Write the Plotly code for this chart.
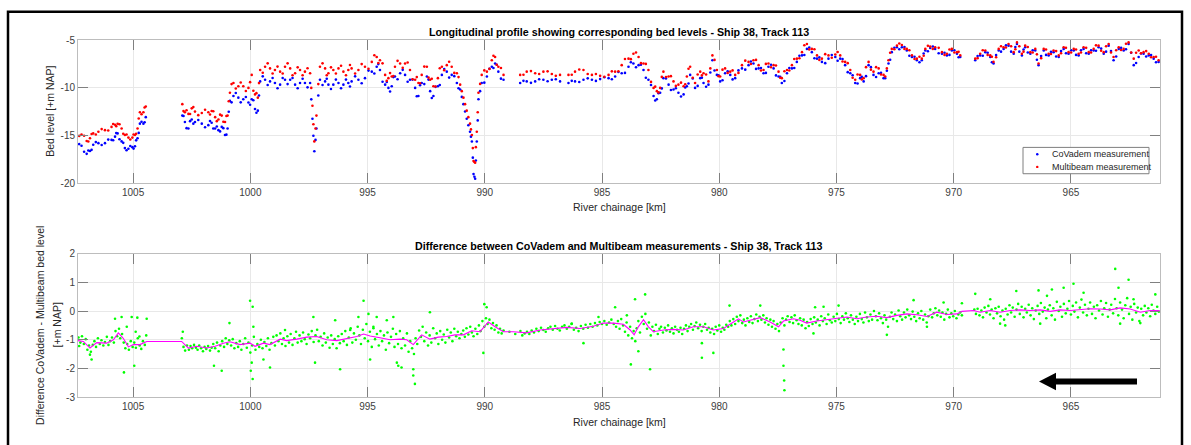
import plotly.graph_objects as go

# ---------------------------------------------------------------------------
# Data: bed levels along the river (chainage in km, levels in m NAP)
# ---------------------------------------------------------------------------
chainage_km = [
    1007.41, 1007.20, 1006.98, 1006.84, 1006.70, 1006.48, 1006.20, 1005.92, 1005.77, 1005.66,
    1005.49, 1005.35, 1005.20, 1005.03, 1004.92, 1004.81, 1004.71, 1004.56, 1004.46, 1002.90,
    1002.79, 1002.64, 1002.50, 1002.36, 1002.07, 1001.79, 1001.65, 1001.50, 1001.36, 1001.22,
    1001.08, 1000.97, 1000.87, 1000.72, 1000.51, 1000.30, 1000.08, 999.94, 999.80, 999.68,
    999.58, 999.37, 999.16, 998.95, 998.73, 998.52, 998.30, 998.09, 997.88, 997.67,
    997.45, 997.35, 997.27, 997.18, 997.03, 996.81, 996.67, 996.46, 996.24, 996.03,
    995.82, 995.68, 995.39, 995.11, 994.82, 994.61, 994.47, 994.25, 994.11, 993.97,
    993.83, 993.61, 993.40, 993.19, 992.97, 992.83, 992.69, 992.47, 992.33, 992.19,
    992.00, 991.83, 991.62, 991.41, 991.19, 991.05, 990.91, 990.77, 990.63, 990.55,
    990.48, 990.41, 990.34, 990.27, 990.13, 989.91, 989.70, 989.56, 989.42, 989.20,
    988.49, 988.21, 987.85, 987.50, 987.14, 986.79, 986.43, 986.15, 985.79, 985.43,
    985.08, 984.72, 984.44, 984.16, 983.87, 983.66, 983.44, 983.23, 983.02, 982.80,
    982.66, 982.52, 982.38, 982.16, 981.95, 981.74, 981.52, 981.38, 981.24, 981.03,
    980.81, 980.67, 980.46, 980.29, 980.10, 979.96, 979.75, 979.53, 979.32, 979.03,
    978.75, 978.54, 978.32, 978.11, 977.90, 977.68, 977.47, 977.33, 977.11, 976.90,
    976.69, 976.47, 976.26, 976.05, 975.83, 975.62, 975.34, 975.05, 974.84, 974.63,
    974.41, 974.20, 973.99, 973.84, 973.63, 973.42, 973.20, 972.99, 972.92, 972.78,
    972.64, 972.42, 972.21, 972.00, 971.78, 971.57, 971.36, 971.21, 971.00, 970.79,
    970.50, 970.29, 970.08, 969.86, 969.72, 969.08, 968.87, 968.65, 968.44, 968.30,
    968.08, 967.87, 967.66, 967.44, 967.30, 967.09, 966.95, 966.73, 966.52, 966.38,
    966.16, 965.95, 965.74, 965.52, 965.31, 965.10, 964.88, 964.67, 964.46, 964.24,
    964.03, 963.82, 963.60, 963.39, 963.18, 962.96, 962.75, 962.54, 962.32, 962.11,
    961.90, 961.68, 961.47, 961.26,
]

covadem_bed = [
    -16.10, -16.06, -16.90, -16.60, -15.95, -15.78, -15.78, -15.44, -15.10, -14.76,
    -15.60, -16.30, -16.36, -16.20, -16.10, -15.27, -13.74, -13.74, -13.06, -12.90,
    -13.57, -14.25, -13.30, -13.57, -13.74, -13.90, -13.64, -14.25, -14.42, -14.08,
    -14.93, -14.25, -11.36, -10.85, -11.02, -11.19, -11.53, -11.19, -12.21, -12.38,
    -9.32, -9.15, -9.32, -9.49, -9.66, -9.15, -9.15, -9.66, -9.49, -9.49,
    -9.49, -13.23, -16.63, -14.25, -9.15, -9.32, -9.66, -9.66, -9.49, -9.66,
    -9.49, -9.32, -9.15, -8.98, -8.30, -7.79, -8.13, -9.66, -10.00, -9.83,
    -8.81, -8.47, -8.64, -9.15, -10.00, -10.85, -9.49, -8.81, -10.34, -10.85,
    -9.83, -8.64, -8.30, -8.64, -9.49, -10.17, -11.70, -13.23, -14.59, -15.61,
    -19.02, -19.50, -15.61, -11.19, -9.49, -8.81, -7.79, -7.45, -8.30, -9.15,
    -9.49, -9.32, -9.32, -9.15, -9.15, -9.32, -9.49, -9.32, -9.15, -9.15,
    -9.08, -8.98, -8.81, -8.47, -7.79, -7.45, -7.62, -8.13, -9.15, -10.85,
    -11.19, -10.51, -8.98, -9.66, -10.17, -10.51, -10.68, -9.83, -8.64, -10.00,
    -8.98, -9.49, -9.66, -7.11, -8.64, -9.32, -8.47, -8.64, -8.98, -7.96,
    -7.62, -7.45, -7.96, -8.47, -7.79, -7.96, -8.81, -9.49, -8.47, -7.96,
    -7.28, -6.60, -5.92, -6.26, -6.94, -7.28, -6.94, -6.77, -6.94, -7.62,
    -8.47, -9.49, -8.98, -9.32, -7.62, -8.64, -8.47, -8.98, -8.98, -7.45,
    -6.26, -5.75, -5.75, -6.09, -6.77, -7.11, -7.11, -6.09, -5.82, -5.92,
    -6.43, -6.60, -6.09, -6.43, -6.77, -7.11, -6.60, -6.26, -6.77, -7.45,
    -6.09, -5.92, -5.58, -6.43, -5.41, -6.60, -5.75, -6.43, -6.09, -7.62,
    -6.09, -6.60, -6.26, -6.77, -5.92, -6.43, -6.09, -6.60, -5.92, -6.43,
    -6.09, -5.75, -6.43, -5.58, -7.11, -5.92, -6.09, -5.41, -7.62, -6.77,
    -6.43, -6.60, -6.94, -7.28,
]

multibeam_bed = [
    -14.76, -14.87, -15.55, -15.27, -14.76, -14.59, -14.42, -14.08, -13.85, -13.75,
    -14.25, -14.93, -15.20, -15.20, -14.93, -14.25, -12.55, -12.55, -11.94, -11.70,
    -12.55, -12.72, -12.14, -12.48, -12.62, -12.55, -12.42, -13.06, -13.30, -12.90,
    -13.57, -12.90, -10.51, -9.49, -9.83, -9.83, -10.00, -8.64, -10.68, -11.02,
    -8.13, -7.79, -7.96, -8.13, -8.30, -7.79, -7.96, -8.47, -8.13, -8.30,
    -8.47, -11.87, -15.60, -12.90, -7.79, -7.96, -8.47, -8.13, -7.96, -8.30,
    -8.13, -7.96, -8.13, -7.79, -7.28, -6.77, -7.11, -8.64, -8.98, -8.81,
    -7.79, -7.45, -7.45, -8.13, -9.15, -9.49, -8.64, -7.79, -9.15, -9.83,
    -8.98, -7.79, -7.62, -7.79, -8.47, -9.66, -11.02, -12.38, -13.74, -14.93,
    -17.66, -17.83, -14.59, -10.51, -8.64, -8.30, -7.11, -6.77, -7.79, -8.64,
    -8.64, -8.30, -8.47, -8.30, -8.54, -8.64, -8.64, -8.30, -8.13, -8.64,
    -8.74, -8.64, -8.30, -7.62, -6.94, -6.43, -6.77, -7.45, -8.13, -10.00,
    -10.34, -10.00, -8.30, -8.81, -9.32, -9.66, -9.83, -8.81, -7.79, -9.49,
    -8.30, -8.47, -9.32, -6.60, -8.13, -8.81, -7.96, -8.30, -8.64, -7.62,
    -7.28, -7.11, -7.62, -8.13, -7.45, -7.62, -8.30, -8.98, -8.13, -7.62,
    -6.94, -6.26, -5.41, -5.92, -6.60, -6.94, -6.60, -6.50, -6.60, -7.28,
    -8.13, -9.15, -8.64, -8.98, -7.28, -8.30, -7.96, -8.64, -8.81, -7.11,
    -5.92, -5.58, -5.51, -5.92, -6.60, -6.94, -6.94, -5.92, -5.68, -5.75,
    -6.26, -6.43, -5.92, -6.26, -6.60, -6.94, -6.43, -6.09, -6.60, -7.28,
    -5.92, -5.75, -5.41, -6.26, -5.24, -6.43, -5.58, -6.26, -5.92, -7.45,
    -5.92, -6.43, -6.09, -6.60, -5.75, -6.26, -5.92, -6.43, -5.75, -6.26,
    -5.92, -5.58, -6.26, -5.41, -6.77, -5.75, -5.92, -5.24, -6.94, -6.09,
    -6.26, -6.43, -6.77, -7.11,
]

# Additional soundings between the ones above (upper / lower parts of the scatter bands)
chainage_km_b = [
    1007.30, 1007.09, 1006.91, 1006.77, 1006.59, 1006.34, 1006.06, 1005.85, 1005.72, 1005.58,
    1005.42, 1005.28, 1005.12, 1004.98, 1004.87, 1004.76, 1004.64, 1004.51,
    1002.85, 1002.72, 1002.57, 1002.43, 1002.22, 1001.93, 1001.72, 1001.58, 1001.43, 1001.29,
    1001.15, 1001.02, 1000.92, 1000.80, 1000.62, 1000.41, 1000.19, 1000.01, 999.87, 999.74,
    999.63,
    999.47, 999.26, 999.05, 998.84, 998.62, 998.41, 998.20, 997.98, 997.77, 997.56,
    997.40, 997.31, 997.22, 997.10, 996.92, 996.74, 996.56, 996.35, 996.13, 995.92,
    995.75, 995.53, 995.25, 994.96, 994.71, 994.54, 994.36, 994.18, 994.04, 993.90,
    993.72, 993.50, 993.29, 993.08, 992.90, 992.76, 992.58, 992.40, 992.26, 992.10,
    991.92, 991.73, 991.52, 991.30, 991.12, 990.98, 990.84, 990.70, 990.59, 990.51,
    990.44, 990.38, 990.30, 990.20, 990.02, 989.80, 989.63, 989.49, 989.31,
    988.35, 988.03, 987.68, 987.32, 986.97, 986.29, 985.97, 985.61, 985.26, 984.90,
    984.58, 984.30, 984.02, 983.77, 983.55, 983.34, 983.13, 982.91, 982.73, 982.59,
    982.45, 982.27, 982.06, 981.85, 981.63, 981.45, 981.31, 981.13, 980.92, 980.74,
    980.56, 980.38, 980.20, 980.03, 979.86, 979.64, 979.43, 979.18, 978.89, 978.65,
    978.43, 978.22, 978.01, 977.79, 977.58, 977.40, 977.22, 977.01, 976.80, 976.58,
    976.37, 976.16, 975.94, 975.73, 975.48, 975.20, 974.95, 974.74, 974.52, 974.31,
    974.10, 973.92, 973.74, 973.53, 973.31, 973.10, 972.85, 972.71, 972.53, 972.32,
    972.10, 971.89, 971.67, 971.46, 971.28, 971.10, 970.89, 970.64, 970.39, 970.18,
    969.97, 969.79,
    968.98, 968.76, 968.55, 968.37, 968.19, 967.98, 967.77, 967.55, 967.37, 967.20,
    967.02, 966.84, 966.63, 966.45, 966.27, 966.06, 965.85, 965.63, 965.42, 965.21,
    964.99, 964.78, 964.57, 964.35, 964.14, 963.93, 963.71, 963.50, 963.29, 963.07,
    962.86, 962.65, 962.43, 962.22, 962.01, 961.79, 961.58, 961.37,
]

covadem_bed_b = [
    -15.88, -16.68, -16.55, -16.48, -15.67, -15.98, -15.41, -15.47, -14.73, -15.38,
    -15.75, -16.53, -16.08, -16.35, -15.49, -14.71, -13.54, -13.60,
    -12.94, -14.21, -13.48, -13.74, -13.36, -14.12, -13.47, -14.25, -14.04, -14.55,
    -14.21, -14.89, -12.50, -11.51, -10.54, -11.51, -10.96, -11.76, -11.30, -12.60,
    -10.80,
    -8.79, -9.69, -8.96, -10.03, -8.96, -9.60, -8.96, -10.03, -9.04, -9.94,
    -11.20, -15.00, -15.44, -10.80, -9.69, -9.04, -10.11, -9.13, -10.03, -9.13,
    -9.86, -8.79, -9.52, -8.19, -8.50, -7.51, -9.35, -9.38, -10.37, -8.87,
    -9.09, -8.11, -9.35, -9.13, -10.88, -9.72, -9.60, -9.13, -11.05, -9.89,
    -9.69, -8.02, -8.92, -8.77, -10.03, -10.94, -12.47, -13.91, -15.10, -17.30,
    -19.30, -17.60, -13.40, -10.34, -9.45, -8.00, -7.92, -7.58, -9.03,
    -9.26, -9.47, -9.09, -9.30, -9.09, -9.26, -9.39, -9.00, -9.27, -8.88,
    -9.10, -8.34, -8.43, -7.32, -7.84, -7.58, -8.94, -9.70, -11.32, -10.55,
    -10.05, -9.02, -10.22, -10.04, -10.90, -9.96, -9.54, -9.02, -9.79, -8.94,
    -9.88, -8.39, -8.18, -8.68, -9.20, -8.26, -9.11, -8.17, -8.09, -7.24,
    -8.01, -7.92, -8.43, -7.58, -8.69, -8.85, -9.28, -7.92, -7.92, -6.64,
    -6.56, -5.79, -6.90, -6.81, -7.41, -6.56, -7.16, -6.98, -8.35, -8.68,
    -9.54, -8.85, -8.77, -7.83, -8.86, -8.43, -8.20, -7.06, -5.81, -5.95,
    -5.72, -6.63, -6.74, -7.31, -6.40, -6.16, -5.67, -6.38, -6.32, -6.55,
    -6.06, -6.80,
    -6.66, -6.63, -6.32, -7.31, -6.57, -6.21, -5.55, -6.21, -5.72, -6.21,
    -5.98, -6.29, -6.06, -7.06, -6.66, -6.55, -6.23, -6.72, -6.15, -6.38,
    -6.06, -6.55, -6.06, -6.38, -6.06, -6.12, -5.89, -6.21, -6.15, -6.72,
    -5.81, -5.95, -6.32, -7.40, -6.40, -6.72, -6.57, -7.31,
]

multibeam_bed_b = [
    -15.02, -15.01, -15.61, -14.82, -14.88, -14.31, -14.45, -13.77, -14.00, -13.80,
    -14.79, -14.87, -15.40, -14.87, -14.79, -13.20, -12.75, -12.05,
    -12.43, -12.34, -12.73, -12.01, -12.85, -12.29, -12.79, -12.44, -13.48, -12.80,
    -13.54, -12.94, -11.40, -9.60, -10.06, -9.43, -10.32, -9.40, -10.30, -10.55,
    -9.50,
    -8.41, -7.43, -8.50, -7.77, -8.50, -7.43, -8.67, -7.85, -8.67, -7.94,
    -10.00, -13.80, -14.25, -9.60, -7.43, -8.67, -7.85, -8.50, -7.68, -8.67,
    -7.60, -8.50, -7.51, -7.99, -6.58, -7.39, -7.43, -9.26, -8.45, -8.75,
    -7.17, -7.90, -7.34, -9.09, -8.87, -9.52, -7.77, -8.92, -9.04, -9.86,
    -7.94, -8.16, -7.26, -8.43, -8.87, -10.34, -11.70, -13.06, -14.34, -16.30,
    -17.75, -16.20, -12.55, -9.58, -8.17, -8.01, -6.64, -7.58, -7.92,
    -8.62, -8.24, -8.54, -8.27, -8.74, -8.62, -8.07, -8.54, -8.54, -8.84,
    -8.27, -8.26, -6.98, -6.99, -6.30, -7.41, -7.49, -9.37, -9.87, -10.47,
    -8.85, -8.86, -8.77, -9.79, -9.45, -9.62, -8.00, -8.94, -8.60, -8.69,
    -8.60, -7.96, -7.07, -8.77, -8.09, -8.43, -8.17, -8.43, -7.15, -7.50,
    -7.07, -8.18, -7.49, -7.84, -7.66, -8.94, -8.26, -8.18, -6.98, -6.90,
    -5.54, -5.97, -5.96, -7.07, -6.47, -6.85, -6.25, -7.24, -7.41, -8.94,
    -8.60, -9.11, -7.83, -8.09, -7.83, -8.60, -7.96, -6.32, -5.95, -5.35,
    -5.92, -6.06, -6.97, -6.74, -6.63, -5.60, -5.92, -5.81, -6.55, -5.98,
    -6.29, -6.23,
    -6.89, -6.06, -6.55, -6.74, -6.80, -5.64, -5.78, -5.64, -5.95, -5.64,
    -6.21, -5.72, -6.29, -6.49, -6.89, -5.98, -6.46, -6.15, -6.38, -5.81,
    -6.29, -5.98, -6.29, -5.81, -6.29, -5.55, -6.12, -5.64, -6.29, -6.06,
    -6.04, -5.38, -6.29, -6.32, -6.38, -6.15, -6.80, -6.74,
]

# Difference CoVadem - Multibeam per measurement point (km, m)
difference_points = [
    (1007.33, -0.92), (1007.30, -1.22), (1007.25, -1.10), (1007.18, -0.88), (1007.10, -1.15),
    (1007.02, -0.98), (1006.95, -1.35), (1006.88, -1.20), (1006.80, -1.42), (1006.72, -1.18),
    (1006.65, -1.05), (1006.58, -1.25), (1006.50, -0.95), (1006.42, -1.15), (1006.35, -1.02),
    (1006.27, -1.20), (1006.20, -1.08), (1006.12, -0.90), (1006.05, -1.18), (1005.98, -1.05),
    (1005.90, -0.92), (1005.82, -1.10), (1005.75, -0.70), (1005.68, -0.88), (1005.60, -0.62),
    (1005.55, -0.95), (1005.47, -0.80), (1005.40, -1.10), (1005.33, -1.30), (1005.25, -1.15),
    (1005.18, -1.35), (1005.10, -1.05), (1005.02, -1.25), (1004.95, -1.10), (1004.88, -1.28),
    (1004.80, -0.95), (1004.72, -1.20), (1004.65, -1.32), (1004.58, -1.05), (1004.50, -1.18),
    (1004.44, -0.85),
    (1002.92, -0.95), (1002.85, -1.25), (1002.78, -1.38), (1002.70, -1.20), (1002.62, -1.35),
    (1002.55, -1.22), (1002.48, -1.30), (1002.40, -1.18), (1002.32, -1.28), (1002.25, -1.35),
    (1002.18, -1.20), (1002.10, -1.30), (1002.02, -1.40), (1001.95, -1.25), (1001.88, -1.32),
    (1001.80, -1.22), (1001.72, -1.38), (1001.65, -1.28), (1001.58, -1.15), (1001.50, -1.30),
    (1001.42, -1.10), (1001.35, -1.40), (1001.28, -1.20), (1001.20, -1.05), (1001.12, -1.25),
    (1001.05, -0.95), (1000.98, -1.15), (1000.90, -1.02), (1000.82, -1.20), (1000.75, -0.98),
    (1000.68, -1.30), (1000.60, -1.12), (1000.52, -1.25), (1000.45, -1.05), (1000.38, -1.35),
    (1000.30, -1.15), (1000.22, -0.95), (1000.15, -1.28), (1000.08, -1.10), (1000.00, -1.45),
    (999.92, -1.20), (999.85, -0.90), (999.78, -1.35), (999.70, -1.15), (999.62, -1.25),
    (999.55, -1.00), (999.48, -1.30), (999.40, -1.08), (999.32, -1.22), (999.25, -0.95),
    (999.18, -1.35), (999.10, -1.12), (999.02, -0.90), (998.95, -1.20), (998.88, -0.85),
    (998.80, -1.05), (998.72, -0.78), (998.65, -1.15), (998.58, -0.95), (998.50, -1.22),
    (998.42, -0.88), (998.35, -1.10), (998.28, -0.80), (998.20, -1.18), (998.12, -0.95),
    (998.05, -0.72), (997.98, -1.10), (997.90, -0.85), (997.82, -1.05), (997.75, -0.75),
    (997.68, -0.98), (997.60, -1.15), (997.52, -0.82), (997.45, -0.95), (997.38, -0.70),
    (997.30, -1.08), (997.22, -0.85), (997.15, -0.65), (997.08, -1.05), (997.00, -0.90),
    (996.92, -1.20), (996.85, -0.78), (996.78, -1.10), (996.70, -0.92), (996.62, -1.28),
    (996.55, -0.85), (996.48, -1.15), (996.40, -0.98), (996.32, -1.30), (996.25, -0.88),
    (996.18, -1.12), (996.10, -0.80), (996.02, -1.05), (995.95, -0.70), (995.88, -1.18),
    (995.80, -0.92), (995.72, -0.60), (995.65, -1.10), (995.58, -0.78), (995.50, -1.00),
    (995.42, -0.55), (995.35, -0.85), (995.28, -1.15), (995.20, -0.65), (995.12, -0.95),
    (995.05, -0.45), (994.98, -1.05), (994.90, -0.72), (994.82, -1.25), (994.75, -0.60),
    (994.68, -0.98), (994.60, -0.80), (994.52, -1.20), (994.45, -0.70), (994.38, -1.05),
    (994.30, -0.85), (994.22, -1.35), (994.15, -0.75), (994.08, -1.12), (994.00, -0.90),
    (993.92, -0.62), (993.85, -1.25), (993.78, -0.80), (993.70, -1.15), (993.62, -0.70),
    (993.55, -1.30), (993.48, -0.95), (993.40, -1.20), (993.32, -0.78), (993.25, -1.42),
    (993.18, -1.05), (993.10, -1.30), (993.02, -1.50), (992.95, -0.95), (992.88, -1.15),
    (992.80, -0.68), (992.72, -0.90), (992.65, -0.55), (992.58, -1.05), (992.50, -0.75),
    (992.42, -1.20), (992.35, -0.85), (992.28, -1.10), (992.20, -0.60), (992.12, -0.95),
    (992.05, -0.78), (991.98, -1.15), (991.90, -0.70), (991.82, -1.00), (991.75, -0.82),
    (991.68, -1.10), (991.60, -0.65), (991.52, -0.92), (991.45, -0.75), (991.38, -1.05),
    (991.30, -0.62), (991.22, -0.88), (991.15, -0.72), (991.08, -0.95), (991.00, -0.80),
    (990.92, -0.68), (990.85, -0.90), (990.78, -0.60), (990.70, -0.82), (990.62, -0.55),
    (990.55, -0.75), (990.48, -0.88), (990.40, -0.62), (990.32, -0.80), (990.25, -0.50),
    (990.18, -0.70), (990.10, -0.35), (990.02, -0.55), (989.95, -0.25), (989.88, -0.45),
    (989.80, -0.30), (989.72, -0.60), (989.65, -0.42), (989.58, -0.65), (989.50, -0.50),
    (989.42, -0.75), (989.35, -0.62), (989.28, -0.78), (989.20, -0.68),
    (988.95, -0.72), (988.70, -0.80),
    (988.48, -0.70), (988.40, -0.85), (988.30, -0.78), (988.20, -0.72), (988.10, -0.80),
    (988.00, -0.68), (987.90, -0.75), (987.80, -0.62), (987.70, -0.70), (987.60, -0.58),
    (987.50, -0.66), (987.40, -0.72), (987.30, -0.60), (987.20, -0.55), (987.10, -0.65),
    (987.00, -0.52), (986.90, -0.62), (986.80, -0.68), (986.70, -0.55), (986.60, -0.50),
    (986.50, -0.62), (986.40, -0.55), (986.30, -0.45), (986.20, -0.65), (986.10, -0.58),
    (986.00, -0.70), (985.90, -0.52), (985.80, -0.62), (985.70, -0.48), (985.60, -0.58),
    (985.50, -0.45), (985.40, -0.55), (985.30, -0.42), (985.20, -0.50), (985.10, -0.38),
    (985.00, -0.45), (984.90, -0.35), (984.80, -0.48), (984.70, -0.40), (984.60, -0.30),
    (984.50, -0.45), (984.40, -0.55), (984.32, -0.35), (984.25, -0.62), (984.18, -0.28),
    (984.10, -0.50), (984.02, -0.72), (983.95, -0.40), (983.88, -0.85), (983.80, -0.55),
    (983.72, -0.95), (983.65, -0.70), (983.58, -1.05), (983.52, -0.60), (983.45, -0.35),
    (983.38, -0.75), (983.30, -0.20), (983.22, -0.45), (983.15, -0.10), (983.08, -0.62),
    (983.00, -0.40), (982.92, -0.85), (982.85, -0.55), (982.78, -0.70), (982.70, -0.48),
    (982.62, -0.80), (982.55, -0.62), (982.48, -0.55), (982.40, -0.75), (982.32, -0.58),
    (982.25, -0.68), (982.18, -0.50), (982.10, -0.72), (982.02, -0.60), (981.95, -0.78),
    (981.88, -0.55), (981.80, -0.65), (981.72, -0.72), (981.65, -0.58), (981.58, -0.80),
    (981.50, -0.62), (981.42, -0.50), (981.35, -0.70), (981.28, -0.55), (981.20, -0.45),
    (981.12, -0.65), (981.05, -0.52), (980.98, -0.40), (980.90, -0.60), (980.82, -0.48),
    (980.75, -0.70), (980.68, -0.55), (980.60, -0.45), (980.52, -0.65), (980.45, -0.58),
    (980.38, -0.75), (980.30, -0.62), (980.22, -0.80), (980.15, -0.55), (980.08, -0.68),
    (980.00, -0.50), (979.92, -0.72), (979.85, -0.58), (979.78, -0.65), (979.70, -0.48),
    (979.62, -0.55), (979.55, -0.35), (979.48, -0.50), (979.40, -0.28), (979.32, -0.45),
    (979.25, -0.20), (979.18, -0.35), (979.10, -0.15), (979.02, -0.42), (978.95, -0.30),
    (978.88, -0.50), (978.80, -0.25), (978.72, -0.38), (978.65, -0.18), (978.58, -0.42),
    (978.50, -0.28), (978.42, -0.12), (978.35, -0.35), (978.28, -0.20), (978.20, -0.30),
    (978.12, -0.15), (978.05, -0.40), (977.98, -0.25), (977.90, -0.48), (977.82, -0.30),
    (977.75, -0.55), (977.68, -0.35), (977.60, -0.62), (977.52, -0.45), (977.45, -0.70),
    (977.38, -0.40), (977.30, -0.25), (977.22, -0.50), (977.15, -0.30), (977.08, -0.18),
    (977.00, -0.38), (976.92, -0.22), (976.85, -0.42), (976.78, -0.15), (976.70, -0.32),
    (976.62, -0.45), (976.55, -0.25), (976.48, -0.50), (976.40, -0.30), (976.32, -0.60),
    (976.25, -0.38), (976.18, -0.52), (976.10, -0.28), (976.02, -0.45), (975.95, -0.22),
    (975.88, -0.40), (975.80, -0.30), (975.72, -0.50), (975.65, -0.18), (975.58, -0.35),
    (975.50, -0.25), (975.42, -0.45), (975.35, -0.12), (975.28, -0.32), (975.20, -0.40),
    (975.12, -0.20), (975.05, -0.35), (974.98, -0.10), (974.90, -0.28), (974.82, -0.42),
    (974.75, -0.18), (974.68, -0.30), (974.60, -0.08), (974.52, -0.25), (974.45, -0.38),
    (974.38, -0.15), (974.30, -0.30), (974.22, -0.45), (974.15, -0.20), (974.08, -0.35),
    (974.00, -0.10), (973.92, -0.28), (973.85, -0.40), (973.78, -0.05), (973.70, -0.22),
    (973.62, -0.35), (973.55, -0.12), (973.48, -0.30), (973.40, 0.00), (973.32, -0.18),
    (973.25, -0.32), (973.18, -0.08), (973.10, -0.25), (973.02, -0.42), (972.95, -0.15),
    (972.88, -0.30), (972.80, -0.55), (972.72, -0.20), (972.65, -0.05), (972.58, -0.28),
    (972.50, -0.12), (972.42, -0.35), (972.35, 0.02), (972.28, -0.18), (972.20, -0.30),
    (972.12, -0.05), (972.05, -0.22), (971.98, 0.05), (971.90, -0.15), (971.82, -0.28),
    (971.75, -0.02), (971.68, -0.20), (971.60, -0.35), (971.52, -0.08), (971.45, -0.25),
    (971.38, 0.00), (971.30, -0.30), (971.22, -0.12), (971.15, -0.40), (971.08, -0.18),
    (971.00, 0.05), (970.92, -0.22), (970.85, -0.08), (970.78, 0.10), (970.70, -0.15),
    (970.62, 0.02), (970.55, -0.20), (970.48, -0.05), (970.40, -0.30), (970.32, -0.10),
    (970.25, 0.05), (970.18, -0.22), (970.10, -0.08), (970.02, -0.18), (969.95, 0.00),
    (969.88, -0.25), (969.80, -0.12), (969.72, -0.05), (969.65, -0.15),
    (969.12, 0.05), (969.05, -0.10), (968.98, 0.08), (968.90, -0.15), (968.82, 0.02),
    (968.75, -0.22), (968.68, 0.12), (968.60, -0.05), (968.52, 0.18), (968.45, -0.12),
    (968.38, 0.05), (968.30, -0.25), (968.22, 0.10), (968.15, -0.08), (968.08, 0.15),
    (968.00, -0.18), (967.92, 0.02), (967.85, -0.30), (967.78, 0.08), (967.70, -0.12),
    (967.62, 0.20), (967.55, -0.05), (967.48, 0.12), (967.40, -0.20), (967.32, 0.05),
    (967.25, 0.25), (967.18, -0.10), (967.10, 0.15), (967.02, -0.22), (966.95, 0.08),
    (966.88, -0.05), (966.80, 0.22), (966.72, -0.15), (966.65, 0.10), (966.58, -0.28),
    (966.50, 0.02), (966.42, 0.18), (966.35, -0.10), (966.28, 0.28), (966.20, -0.02),
    (966.12, 0.12), (966.05, -0.25), (965.98, 0.05), (965.90, 0.20), (965.82, -0.15),
    (965.75, 0.10), (965.68, -0.30), (965.60, 0.32), (965.52, 0.00), (965.45, 0.15),
    (965.38, -0.20), (965.30, 0.25), (965.22, -0.08), (965.15, 0.08), (965.08, 0.35),
    (965.00, -0.12), (964.92, 0.18), (964.85, -0.02), (964.78, 0.30), (964.70, -0.22),
    (964.62, 0.12), (964.55, 0.40), (964.48, -0.05), (964.40, 0.22), (964.32, -0.15),
    (964.25, 0.08), (964.18, 0.30), (964.10, -0.10), (964.02, 0.15), (963.95, -0.25),
    (963.88, 0.20), (963.80, 0.02), (963.72, 0.35), (963.65, -0.12), (963.58, 0.10),
    (963.50, 0.28), (963.42, -0.20), (963.35, 0.05), (963.28, 0.22), (963.20, -0.08),
    (963.12, 0.42), (963.05, 0.10), (962.98, -0.15), (962.90, 0.30), (962.82, 0.05),
    (962.75, -0.25), (962.68, 0.20), (962.60, 0.45), (962.52, -0.10), (962.45, 0.15),
    (962.38, -0.30), (962.30, 0.25), (962.22, -0.05), (962.15, 0.12), (962.08, -0.35),
    (962.00, 0.08), (961.92, -0.15), (961.85, 0.18), (961.78, -0.05), (961.70, 0.10),
    (961.62, -0.18), (961.55, 0.22), (961.48, 0.02), (961.40, -0.10), (961.32, 0.15),
    (961.25, -0.02),
]

# Isolated large differences
difference_outliers = [
    (1005.77, -0.27), (1005.49, -0.21), (1005.06, -0.21), (1004.82, -0.23), (1004.42, -0.27),
    (1005.39, -2.14), (1004.95, -1.91), (1006.84, -1.52), (1006.77, -1.69), (1005.27, -0.55),
    (1004.89, -0.72), (1004.73, -0.89), (1002.88, -0.72), (1000.89, -0.42), (1001.22, -2.08),
    (1001.55, -1.91), (1000.01, 0.36), (999.90, 0.15), (999.94, -1.80), (999.90, -2.37),
    (999.98, -2.08), (999.44, -1.69), (999.16, -1.97), (999.87, -0.55), (998.52, -0.66),
    (997.31, -0.21), (997.24, -1.80), (996.17, -2.03), (995.39, -0.21), (995.17, 0.36),
    (994.96, -0.10), (994.89, -1.69), (993.75, -1.80), (994.61, -0.21), (994.18, -0.32),
    (996.38, -0.32), (995.74, -0.66), (994.75, -0.55), (993.90, -0.21), (993.69, -1.91),
    (993.55, -1.97), (993.05, -2.03), (993.05, -2.25), (992.98, -2.54), (992.34, -0.04),
    (990.02, 0.24), (989.92, 0.13), (990.06, -1.46), (986.29, -0.44), (985.79, -1.12),
    (985.15, -0.21), (984.44, 0.13), (983.94, -0.15), (983.77, -1.86), (983.59, 0.41),
    (983.16, 0.58), (983.45, -1.40), (982.95, -2.03), (980.74, -1.12), (980.74, -1.63),
    (980.25, -1.46), (979.56, 0.19), (978.25, 0.19), (977.26, -1.91), (977.23, -2.42),
    (977.22, -2.76), (977.26, -1.34), (975.91, 0.13), (975.55, 0.15), (974.91, 0.19),
    (975.98, -0.78), (972.85, -0.83), (971.71, 0.38), (971.14, -0.55), (970.43, 0.30),
    (969.65, 0.27), (969.08, 0.60), (968.44, 0.41), (967.33, 0.70), (966.38, 0.72),
    (966.02, 0.53), (965.81, 0.75), (965.31, 0.81), (964.89, 0.95), (964.46, 0.64),
    (963.11, 1.47), (962.97, 0.81), (962.54, 1.09), (962.33, 0.41), (961.40, 0.58),
    (962.04, -0.42), (962.90, -0.44), (966.31, -0.44), (968.02, -0.44), (967.80, -0.50),
]

# Running mean of the difference (km, m)
difference_mean = [
    (1007.37, -1.03), (1007.12, -1.06), (1006.84, -1.29), (1006.55, -1.10), (1006.13, -1.12),
    (1005.84, -1.00), (1005.63, -0.76), (1005.42, -0.95), (1005.20, -1.25), (1004.99, -1.17),
    (1004.71, -1.17), (1004.42, -1.06), (1002.93, -1.06), (1002.64, -1.29), (1002.29, -1.23),
    (1001.86, -1.29), (1001.50, -1.23), (1001.15, -1.12), (1000.87, -1.07), (1000.44, -1.17),
    (1000.01, -1.12), (999.80, -1.23), (999.44, -1.12), (999.16, -1.17), (998.73, -0.98),
    (998.45, -1.03), (998.02, -0.98), (997.59, -0.91), (997.17, -0.89), (996.74, -1.00),
    (996.31, -1.03), (995.89, -0.95), (995.46, -0.89), (995.17, -0.80), (994.89, -0.87),
    (994.47, -0.93), (994.04, -1.00), (993.62, -0.98), (993.33, -1.00), (993.05, -1.17),
    (992.69, -0.83), (992.34, -0.98), (991.98, -0.91), (991.63, -0.89), (991.27, -0.83),
    (990.91, -0.83), (990.56, -0.69), (990.20, -0.72), (989.85, -0.38), (989.56, -0.55),
    (989.21, -0.72), (988.78, -0.72), (988.21, -0.76), (987.64, -0.66), (987.07, -0.61),
    (986.50, -0.57), (985.94, -0.61), (985.37, -0.53), (984.94, -0.42), (984.51, -0.42),
    (984.09, -0.46), (983.80, -0.66), (983.63, -0.83), (983.45, -0.55), (983.23, -0.30),
    (983.02, -0.55), (982.81, -0.72), (982.38, -0.66), (981.95, -0.64), (981.53, -0.66),
    (981.10, -0.55), (980.67, -0.55), (980.25, -0.66), (979.82, -0.61), (979.39, -0.38),
    (979.18, -0.27), (978.97, -0.38), (978.54, -0.30), (978.25, -0.23), (977.83, -0.38),
    (977.47, -0.55), (977.26, -0.35), (976.83, -0.27), (976.55, -0.32), (976.27, -0.42),
    (975.84, -0.35), (975.41, -0.30), (974.99, -0.27), (974.56, -0.21), (974.13, -0.27),
    (973.71, -0.21), (973.28, -0.18), (972.85, -0.23), (972.42, -0.15), (971.99, -0.10),
    (971.57, -0.13), (971.14, -0.19), (970.72, -0.04), (970.29, -0.12), (969.86, -0.10),
    (969.65, -0.01), (969.15, 0.02), (968.87, -0.04), (968.44, 0.02), (968.02, -0.04),
    (967.59, 0.02), (967.16, 0.04), (966.74, 0.02), (966.31, 0.04), (965.88, -0.01),
    (965.46, 0.04), (965.03, 0.02), (964.60, 0.06), (964.18, 0.08), (963.75, 0.07),
    (963.32, 0.04), (962.90, 0.11), (962.47, 0.07), (962.04, -0.04), (961.62, 0.02),
    (961.22, 0.02),
]

km_ticks = [1005, 1000, 995, 990, 985, 980, 975, 970, 965]
km_tick_text = ["1005", "1000", "995", "990", "985", "980", "975", "970", "965"]
bed_ticks = [-20, -15, -10, -5]
bed_tick_text = ["-20", "-15", "-10", "-5"]
diff_ticks = [-3, -2, -1, 0, 1, 2]
diff_tick_text = ["-3", "-2", "-1", "0", "1", "2"]

# ---------------------------------------------------------------------------
# Figure geometry (pixels of a 1191 x 445 canvas)
# ---------------------------------------------------------------------------
W, H = 1191, 445


def fx(x):
    return x / W


def fy(y):
    return 1 - y / H


PLOT_L, PLOT_R = 78, 1160
TOP_T, TOP_B = 36, 183
BOT_T, BOT_B = 255, 402
FONT = "Liberation Sans, Arial, sans-serif"
TXT = "#262626"

fig = go.Figure()

fig.add_trace(go.Scatter(
    x=chainage_km + chainage_km_b, y=covadem_bed + covadem_bed_b, mode="markers",
    name="CoVadem measurement", marker=dict(color="#0000ff", size=2.6),
    xaxis="x", yaxis="y", showlegend=False,
))
fig.add_trace(go.Scatter(
    x=chainage_km + chainage_km_b, y=multibeam_bed + multibeam_bed_b, mode="markers",
    name="Multibeam measurement", marker=dict(color="#ff0000", size=2.6),
    xaxis="x", yaxis="y", showlegend=False,
))

diff_all = difference_points + difference_outliers
fig.add_trace(go.Scatter(
    x=[p[0] for p in diff_all], y=[p[1] for p in diff_all], mode="markers",
    marker=dict(color="#00ff00", size=2.6), xaxis="x2", yaxis="y2", showlegend=False,
))
fig.add_trace(go.Scatter(
    x=[p[0] for p in difference_mean], y=[p[1] for p in difference_mean], mode="lines",
    line=dict(color="#ff00ff", width=1.1), xaxis="x2", yaxis="y2", showlegend=False,
))

axis_common = dict(
    showline=True, linecolor="#bdbdbd", linewidth=1, mirror="ticks",
    ticks="inside", ticklen=10, tickcolor="#808080", tickwidth=1,
    showgrid=True, gridcolor="#e8e8e8", gridwidth=1, zeroline=False,
    tickfont=dict(family=FONT, size=10, color="#404040"),
)

fig.update_layout(
    width=W, height=H, margin=dict(l=0, r=0, t=0, b=0),
    paper_bgcolor="white", plot_bgcolor="white",
    xaxis=dict(axis_common, domain=[fx(PLOT_L), fx(PLOT_R)], anchor="y",
               range=[1007.35, 961.2], tickvals=km_ticks, ticktext=km_tick_text),
    yaxis=dict(axis_common, domain=[fy(TOP_B), fy(TOP_T)], anchor="x",
               range=[-20, -5], tickvals=bed_ticks, ticktext=bed_tick_text),
    xaxis2=dict(axis_common, domain=[fx(PLOT_L), fx(PLOT_R)], anchor="y2",
                range=[1007.35, 961.2], tickvals=km_ticks, ticktext=km_tick_text),
    yaxis2=dict(axis_common, domain=[fy(BOT_B), fy(BOT_T)], anchor="x2",
                range=[-3, 2], tickvals=diff_ticks, ticktext=diff_tick_text),
)


def text(s, x, y, size=10.5, bold=False, angle=0, anchor="center"):
    fig.add_annotation(
        text=f"<b>{s}</b>" if bold else s, x=fx(x), y=fy(y), xref="paper", yref="paper",
        showarrow=False, xanchor=anchor, yanchor="middle", textangle=angle,
        font=dict(family=FONT, size=size, color="#000000" if bold else TXT),
    )


centre_x = (PLOT_L + PLOT_R) / 2
text("Longitudinal profile showing corresponding bed levels - Ship 38, Track 113",
     centre_x, 28, size=10.7, bold=True)
text("Difference between CoVadem and Multibeam measurements - Ship 38, Track 113",
     centre_x, 247, size=10.7, bold=True)
text("River chainage [km]", centre_x, 207)
text("River chainage [km]", centre_x, 428)
text("Bed level [+m NAP]", 50, (TOP_T + TOP_B) / 2, angle=-90)
text("Difference CoVadem - Multibeam bed level", 40.5, (BOT_T + BOT_B) / 2, angle=-90)
text("[+m NAP]", 57, (BOT_T + BOT_B) / 2, angle=-90)

# Legend box of the upper panel
fig.add_shape(type="rect", xref="paper", yref="paper",
              x0=fx(1023), x1=fx(1149), y0=fy(173), y1=fy(146),
              line=dict(color="#7f7f7f", width=1), fillcolor="white", layer="above")
for yy, col, label in [(153, "#0000ff", "CoVadem measurement"),
                       (166, "#ff0000", "Multibeam measurement")]:
    fig.add_shape(type="circle", xref="paper", yref="paper",
                  x0=fx(1036), x1=fx(1038.5), y0=fy(yy + 1.2), y1=fy(yy - 1.2),
                  line=dict(width=0), fillcolor=col, layer="above")
    text(label, 1050, yy, size=9, anchor="left")

# Direction arrow in the lower panel
arrow_pts = [(1137, 383), (1056, 383), (1056, 377), (1039, 386),
             (1056, 395), (1056, 389), (1137, 389)]
path = "M " + " L ".join(f"{fx(x):.5f},{fy(y):.5f}" for x, y in arrow_pts) + " Z"
fig.add_shape(type="path", xref="paper", yref="paper", path=path,
              fillcolor="black", line=dict(color="black", width=0), layer="above")

# Outer frame
fig.add_shape(type="rect", xref="paper", yref="paper",
              x0=fx(8), x1=fx(1182), y0=-0.1, y1=fy(7),
              line=dict(color="black", width=2.5), layer="above")

fig.write_html("out.html")
